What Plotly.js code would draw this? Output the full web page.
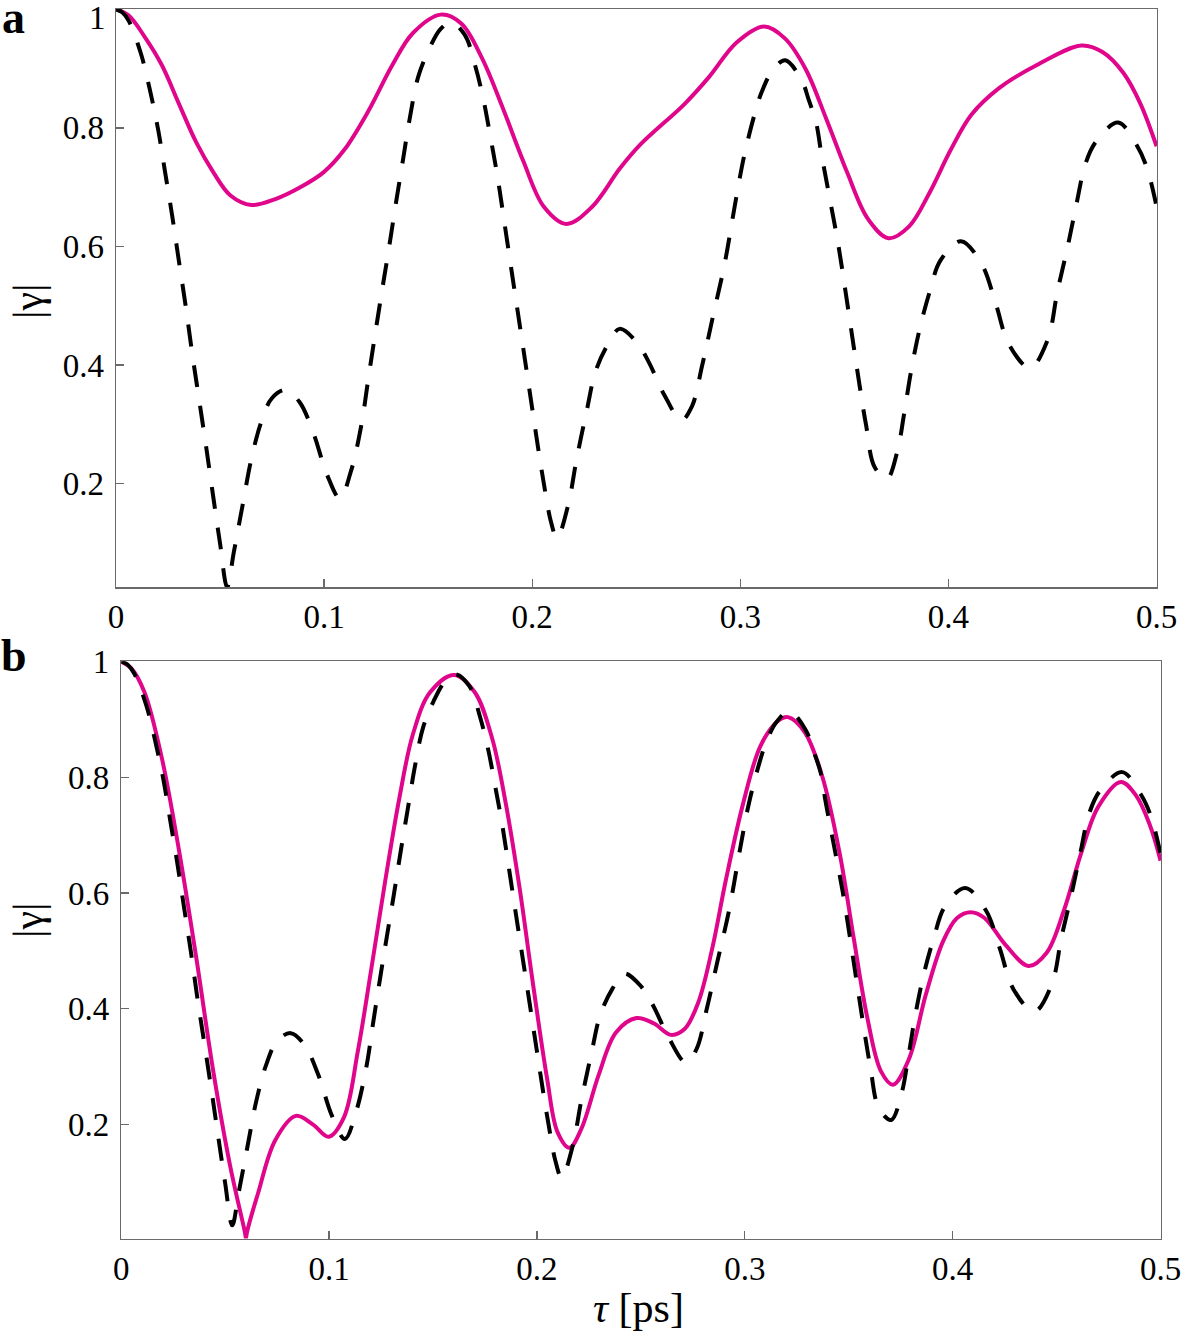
<!DOCTYPE html>
<html>
<head>
<meta charset="utf-8">
<script src="https://cdn.plot.ly/plotly-3.0.1.min.js"></script>
<style>html,body{margin:0;padding:0;background:#fff;}#chart{width:1181px;height:1331px;}</style>
</head>
<body>
<div id="chart"></div>
<script>
// Reference curve (black dashed), same in both panels
const tauRef = [0,0.003,0.0062,0.012,0.0161,0.0203,0.0236,0.0269,0.0302,0.0335,0.0368,0.0401,0.0434,0.0468,0.05,0.0534,0.0567,0.0608,0.065,0.0699,0.0749,0.0815,0.0881,0.0948,0.1014,0.1076,0.1129,0.1179,0.1212,0.1246,0.1278,0.1311,0.1345,0.1378,0.1411,0.1452,0.1502,0.156,0.1609,0.1676,0.1725,0.1766,0.18,0.1833,0.1866,0.1899,0.1932,0.1965,0.1998,0.2031,0.2064,0.2089,0.2119,0.2172,0.2213,0.2263,0.2304,0.2362,0.242,0.2503,0.256,0.2634,0.2717,0.2767,0.2817,0.2867,0.2924,0.2979,0.3019,0.307,0.3102,0.3153,0.3215,0.3294,0.3327,0.3364,0.3389,0.343,0.3471,0.3505,0.3538,0.3571,0.3604,0.3645,0.3704,0.3754,0.3787,0.382,0.3861,0.3911,0.3961,0.406,0.416,0.4226,0.4292,0.4392,0.4475,0.4524,0.4574,0.4616,0.4657,0.4707,0.4815,0.4906,0.4955,0.5];
const gammaRef = [1,0.995,0.98,0.925,0.867,0.796,0.725,0.654,0.576,0.499,0.415,0.338,0.26,0.176,0.099,0.026,0.086,0.163,0.241,0.305,0.344,0.358,0.338,0.286,0.215,0.175,0.221,0.299,0.376,0.454,0.525,0.596,0.673,0.744,0.815,0.886,0.931,0.967,0.978,0.957,0.906,0.847,0.783,0.718,0.641,0.563,0.486,0.409,0.331,0.254,0.183,0.137,0.108,0.163,0.241,0.325,0.389,0.434,0.461,0.438,0.405,0.35,0.307,0.33,0.40,0.48,0.570,0.680,0.754,0.825,0.860,0.896,0.914,0.881,0.849,0.809,0.757,0.680,0.602,0.525,0.447,0.370,0.299,0.228,0.208,0.254,0.318,0.389,0.460,0.525,0.576,0.609,0.570,0.505,0.434,0.395,0.441,0.525,0.602,0.673,0.738,0.776,0.809,0.770,0.731,0.667];

// Panel a: magenta curve
const tauA = [0,0.006,0.0137,0.022,0.0302,0.0385,0.0468,0.055,0.065,0.0766,0.0881,0.0997,0.1097,0.1212,0.1328,0.1427,0.156,0.1659,0.1758,0.1858,0.1957,0.2056,0.2164,0.2288,0.242,0.252,0.2734,0.285,0.2982,0.3115,0.3214,0.3314,0.3413,0.3513,0.3612,0.3712,0.3811,0.3911,0.4011,0.411,0.4243,0.4425,0.464,0.474,0.484,0.4922,0.5];
const gammaA = [1,0.99,0.954,0.906,0.841,0.776,0.725,0.686,0.670,0.680,0.699,0.725,0.763,0.828,0.906,0.960,0.991,0.976,0.918,0.834,0.744,0.667,0.638,0.667,0.731,0.772,0.841,0.886,0.944,0.971,0.951,0.899,0.815,0.725,0.647,0.614,0.634,0.692,0.763,0.822,0.867,0.906,0.939,0.928,0.893,0.841,0.769];

// Panel b: magenta curve
const tauB = [0,0.005,0.0112,0.0195,0.0277,0.036,0.0443,0.0525,0.0595,0.06,0.0605,0.0658,0.0741,0.084,0.0923,0.0998,0.1072,0.1138,0.1204,0.1271,0.1337,0.1403,0.1486,0.1602,0.1701,0.1784,0.185,0.1916,0.1983,0.2049,0.2099,0.2156,0.2214,0.2297,0.238,0.2479,0.2561,0.2644,0.271,0.2776,0.2843,0.2909,0.2992,0.3075,0.3158,0.3208,0.329,0.3373,0.3456,0.3523,0.3589,0.3655,0.3713,0.3788,0.3871,0.3954,0.4021,0.4087,0.4153,0.4253,0.4365,0.4452,0.4535,0.4618,0.47,0.4809,0.4883,0.495,0.5];
const gammaB = [1,0.988,0.947,0.834,0.676,0.491,0.292,0.127,0.014,0.004,0.014,0.081,0.173,0.215,0.200,0.179,0.213,0.326,0.471,0.623,0.762,0.874,0.947,0.977,0.947,0.868,0.755,0.610,0.438,0.279,0.187,0.160,0.193,0.286,0.359,0.384,0.375,0.355,0.365,0.411,0.504,0.623,0.755,0.854,0.897,0.904,0.877,0.801,0.669,0.524,0.385,0.292,0.269,0.312,0.425,0.517,0.557,0.567,0.557,0.511,0.474,0.497,0.570,0.669,0.749,0.792,0.768,0.716,0.656];

const xTicks = [0,0.1,0.2,0.3,0.4,0.5];
const yTicks = [0.2,0.4,0.6,0.8,1];
const yLabelsA = ['0.2','0.4','0.6','0.8',''];   // top "1" is placed as a label below the frame edge, as in the original
const yLabelsB = ['0.2','0.4','0.6','0.8','1'];

const MAG = '#e0068c';
const FONT = 'Liberation Serif, Times New Roman, serif';
const W = 1181, H = 1331;

const traces = [
  {x: tauA, y: gammaA, xaxis:'x', yaxis:'y', mode:'lines', line:{color:MAG, width:4, shape:'spline'}, hoverinfo:'skip'},
  {x: tauRef, y: gammaRef, xaxis:'x', yaxis:'y', mode:'lines', line:{color:'#000', width:4, dash:'22px,19px', shape:'spline'}, hoverinfo:'skip'},
  {x: tauB, y: gammaB, xaxis:'x2', yaxis:'y2', mode:'lines', line:{color:MAG, width:4, shape:'spline'}, hoverinfo:'skip'},
  {x: tauRef, y: gammaRef, xaxis:'x2', yaxis:'y2', mode:'lines', line:{color:'#000', width:4, dash:'22px,19px', shape:'spline'}, hoverinfo:'skip'}
];

function xax(domain, anchor){
  return {domain: domain, anchor: anchor, range:[0,0.5002], tickvals: xTicks, ticks:'inside', ticklen:8, tickwidth:1.3,
    tickcolor:'#6a6a6a', showline:true, linecolor:'#6a6a6a', linewidth:1.3, mirror:true, showgrid:false, zeroline:false,
    tickfont:{family:FONT, size:33, color:'#000'}, ticklabelstandoff:0, ticklabeloverflow:'allow'};
}
function yax(domain, anchor, lo, labels){
  return {domain: domain, anchor: anchor, range:[lo,1.0005], tickvals: yTicks, ticktext: labels, ticks:'inside', ticklen:8, tickwidth:1.3,
    tickcolor:'#6a6a6a', showline:true, linecolor:'#6a6a6a', linewidth:1.3, mirror:true, showgrid:false, zeroline:false,
    tickfont:{family:FONT, size:33, color:'#000'}, ticklabelstandoff:4, ticklabeloverflow:'allow'};
}

const layout = {
  width: W, height: H,
  margin:{l:0,r:0,t:0,b:0},
  paper_bgcolor:'#fff', plot_bgcolor:'#fff',
  showlegend:false,
  xaxis: xax([116/W, 1157/W], 'y'),
  yaxis: yax([1-587.4/H, 1-9/H], 'x', 0.025, yLabelsA),
  xaxis2: xax([121.2/W, 1161/W], 'y2'),
  yaxis2: yax([1-1238.6/H, 1-661.3/H], 'x2', 0.003, yLabelsB),
  annotations: [
    {text:'1', xref:'paper', yref:'paper', x:108/W, y:1-18/H, xanchor:'right', yanchor:'middle', showarrow:false, font:{family:FONT, size:33, color:'#000'}},
    {text:'<b>a</b>', xref:'paper', yref:'paper', x:13/W, y:1-18/H, xanchor:'center', yanchor:'middle', showarrow:false, font:{family:FONT, size:46, color:'#000'}},
    {text:'<b>b</b>', xref:'paper', yref:'paper', x:14/W, y:1-656/H, xanchor:'center', yanchor:'middle', showarrow:false, font:{family:FONT, size:46, color:'#000'}},
    {text:'|γ|', xref:'paper', yref:'paper', x:28/W, y:1-302/H, xanchor:'center', yanchor:'middle', textangle:-90, showarrow:false, font:{family:FONT, size:42, color:'#000'}},
    {text:'|γ|', xref:'paper', yref:'paper', x:28/W, y:1-921/H, xanchor:'center', yanchor:'middle', textangle:-90, showarrow:false, font:{family:FONT, size:42, color:'#000'}},
    {text:'<i>τ</i> [ps]', xref:'paper', yref:'paper', x:638/W, y:1-1308/H, xanchor:'center', yanchor:'middle', showarrow:false, font:{family:FONT, size:42, color:'#000'}}
  ]
};

Plotly.newPlot('chart', traces, layout, {staticPlot:true, displayModeBar:false});
</script>
</body>
</html>
